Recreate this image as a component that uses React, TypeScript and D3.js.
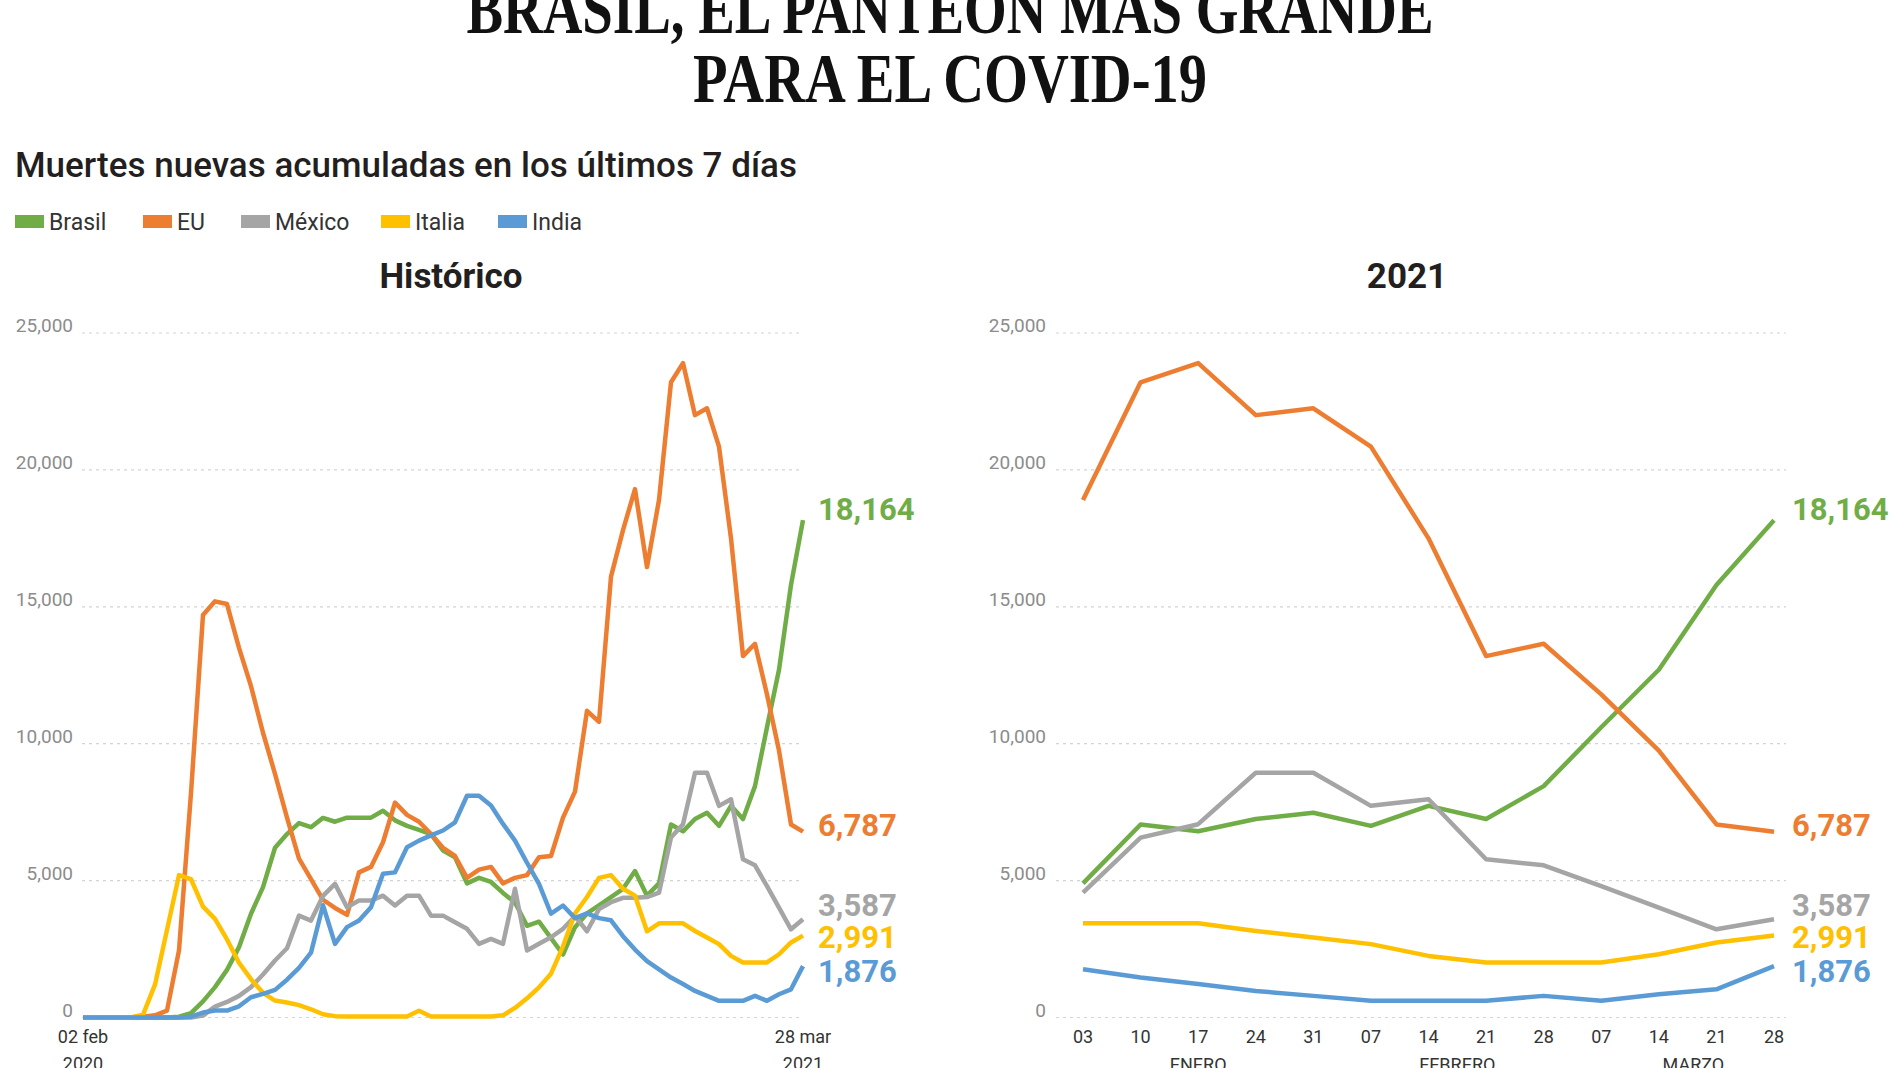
import React, { useEffect } from 'react';
import * as d3 from 'd3';

// ---------- DATA ----------
const seriesNames = ['Brasil', 'EU', 'México', 'Italia', 'India'];
const seriesColors = ['#70AD47', '#ED7D31', '#A5A5A5', '#FFC000', '#5B9BD5'];

// Weekly 7-day accumulated new deaths, 02 feb 2020 .. 28 mar 2021 (61 weeks)
const brasil = [
  0, 0, 0, 0, 0, 0, 0, 0, 30, 160, 590, 1110, 1740, 2570, 3790, 4760, 6200, 6700, 7100, 6950,
  7290, 7150, 7300, 7300, 7300, 7550, 7200, 7000, 6850, 6700, 6100, 5850, 4900, 5100, 4950, 4550,
  4200, 3350, 3500, 2900, 2300, 3300, 3800, 4100, 4400, 4700, 5350, 4450,
  4900, 7050, 6800, 7250, 7480, 7000, 7730, 7250, 8450, 10600, 12700, 15800, 18164,
];
const eu = [
  0, 0, 0, 0, 10, 30, 80, 250, 2450, 8200, 14700, 15200, 15100, 13500, 12100, 10400, 8900, 7300, 5800, 5050,
  4300, 4000, 3750, 5300, 5500, 6400, 7850, 7400, 7150, 6700, 6200, 5900, 5100, 5400, 5500, 4900,
  5100, 5200, 5850, 5900, 7300, 8250, 11200, 10800, 16100, 17800, 19300, 16450,
  18900, 23200, 23900, 22000, 22250, 20850, 17500, 13200, 13650, 11800, 9750, 7050, 6787,
];
const mexico = [
  0, 0, 0, 0, 0, 0, 0, 0, 0, 0, 70, 400, 570, 790, 1110, 1570, 2080, 2530, 3720, 3540,
  4440, 4880, 4030, 4270, 4270, 4450, 4090, 4450, 4450, 3720, 3720, 3480, 3240, 2690, 2870, 2690,
  4700, 2450, 2690, 2930, 3240, 3700, 3150, 3960, 4210, 4370, 4370, 4400,
  4560, 6570, 7060, 8940, 8940, 7730, 7970, 5780, 5560, 4800, 4010, 3220, 3587,
];
const italia = [
  0, 0, 0, 0, 0, 100, 1200, 3200, 5200, 5050, 4050, 3600, 2850, 2000, 1400, 900, 620, 550, 450, 300,
  120, 50, 40, 40, 40, 40, 40, 40, 250, 40, 40, 40, 40, 40, 40, 80,
  350, 700, 1100, 1600, 2600, 3800, 4400, 5100, 5200, 4700, 4450, 3150,
  3440, 3440, 3440, 3160, 2920, 2680, 2250, 2010, 2010, 2010, 2310, 2740, 2991,
];
const india = [
  0, 0, 0, 0, 0, 0, 0, 0, 0, 30, 180, 255, 255, 410, 740, 860, 1010, 1380, 1810, 2370,
  4100, 2690, 3300, 3540, 4030, 5250, 5300, 6220, 6460, 6650, 6830, 7130, 8100, 8100, 7740, 7070,
  6460, 5650, 4880, 3790, 4090, 3630, 3800, 3630, 3550, 2970, 2480, 2060,
  1760, 1460, 1220, 970, 790, 610, 610, 610, 790, 610, 850, 1030, 1876,
];
const seriesData = [brasil, eu, mexico, italia, india];
const endLabels = ['18,164', '6,787', '3,587', '2,991', '1,876'];

const yTicks = [0, 5000, 10000, 15000, 20000, 25000];
const histTicks = [
  { idx: 0, day: '02 feb', year: '2020' },
  { idx: 60, day: '28 mar', year: '2021' },
];
const weeks2021 = ['03', '10', '17', '24', '31', '07', '14', '21', '28', '07', '14', '21', '28'];
const months2021 = [
  { label: 'ENERO', pos: 2 },
  { label: 'FEBRERO', pos: 6.5 },
  { label: 'MARZO', pos: 10.6 },
];

// ---------- LAYOUT ----------
const labelDy = [0, 4, -3, 12, 16];
const legendX = [15, 143, 241, 381, 498];
const SANS = 'Roboto, "Noto Sans", sans-serif';

export default function App() {
  useEffect(() => {
    document.body.style.margin = '0';
  }, []);

  const y = d3.scaleLinear().domain([0, 25000]).range([1017.5, 333]);
  const xL = d3.scaleLinear().domain([0, 60]).range([83, 803]);
  const xR = d3.scaleLinear().domain([0, 12]).range([1083, 1774]);
  const fmt = d3.format(',');

  const lineL = d3
    .line<number>()
    .x((_, i) => xL(i))
    .y((d) => y(d));
  const lineR = d3
    .line<number>()
    .x((_, i) => xR(i))
    .y((d) => y(d));

  const panels = [
    { x: xL, line: lineL, gx0: 82, gx1: 803, labelX: 73, data: seriesData, endX: 818 },
    { x: xR, line: lineR, gx0: 1056, gx1: 1786, labelX: 1046, data: seriesData.map((s) => s.slice(-13)), endX: 1792 },
  ];

  return (
    <svg
      width={1900}
      height={1068}
      viewBox="0 0 1900 1068"
      style={{ position: 'absolute', left: 0, top: 0, background: '#fff', display: 'block' }}
    >
      <rect width={1900} height={1068} fill="#fff" />
      {/* Title */}
      <text
        x={950}
        y={33}
        textAnchor="middle"
        fontFamily='"Liberation Serif", serif'
        fontWeight="bold"
        fontSize={70}
        textLength={967}
        lengthAdjust="spacingAndGlyphs"
        fill="#111"
      >
        BRASIL, EL PANTEÓN MÁS GRANDE
      </text>
      <text
        x={950}
        y={102}
        textAnchor="middle"
        fontFamily='"Liberation Serif", serif'
        fontWeight="bold"
        fontSize={70}
        textLength={514}
        lengthAdjust="spacingAndGlyphs"
        fill="#111"
      >
        PARA EL COVID-19
      </text>
      {/* Subtitle */}
      <text
        x={15}
        y={177}
        fontFamily={SANS}
        fontWeight={500}
        fontSize={35}
        textLength={782}
        lengthAdjust="spacingAndGlyphs"
        fill="#231f20"
      >
        Muertes nuevas acumuladas en los últimos 7 días
      </text>
      {/* Legend */}
      {seriesNames.map((n, i) => (
        <g key={n}>
          <rect x={legendX[i]} y={215} width={29} height={13} fill={seriesColors[i]} />
          <text x={legendX[i] + 34} y={230} fontFamily={SANS} fontSize={23} fill="#333">
            {n}
          </text>
        </g>
      ))}
      {/* Panel titles */}
      <text x={451} y={288} textAnchor="middle" fontFamily={SANS} fontWeight={700} fontSize={35} fill="#231f20">
        Histórico
      </text>
      <text x={1407} y={288} textAnchor="middle" fontFamily={SANS} fontWeight={700} fontSize={35} fill="#231f20">
        2021
      </text>

      {panels.map((p, pi) => (
        <g key={pi}>
          {yTicks.map((t) => (
            <g key={t}>
              <line
                x1={p.gx0}
                x2={p.gx1}
                y1={y(t)}
                y2={y(t)}
                stroke="#d4d4d4"
                strokeWidth={1.2}
                strokeDasharray="3,4"
              />
              <text
                x={p.labelX}
                y={y(t) - 1}
                textAnchor="end"
                fontFamily={SANS}
                fontSize={19}
                fill="#8c8c8c"
              >
                {fmt(t)}
              </text>
            </g>
          ))}
          {p.data.map((s, si) => (
            <path
              key={si}
              d={p.line(s) || ''}
              fill="none"
              stroke={seriesColors[si]}
              strokeWidth={4.5}
              strokeLinejoin="round"
            />
          ))}
          {p.data.map((s, si) => (
            <text
              key={'l' + si}
              x={p.endX}
              y={y(s[s.length - 1]) + labelDy[si]}
              fontFamily={SANS}
              fontWeight={700}
              fontSize={31}
              fill={seriesColors[si]}
            >
              {endLabels[si]}
            </text>
          ))}
        </g>
      ))}

      {/* Historic x labels */}
      {histTicks.map((t) => (
        <g key={t.idx}>
          <text x={xL(t.idx)} y={1043} textAnchor="middle" fontFamily={SANS} fontSize={18} fill="#333">
            {t.day}
          </text>
          <text x={xL(t.idx)} y={1070} textAnchor="middle" fontFamily={SANS} fontSize={18} fill="#333">
            {t.year}
          </text>
        </g>
      ))}
      {/* 2021 x labels */}
      {weeks2021.map((w, i) => (
        <text key={i} x={xR(i)} y={1043} textAnchor="middle" fontFamily={SANS} fontSize={18} fill="#333">
          {w}
        </text>
      ))}
      {months2021.map((m) => (
        <text key={m.label} x={xR(m.pos)} y={1071} textAnchor="middle" fontFamily={SANS} fontSize={18} fill="#333">
          {m.label}
        </text>
      ))}
    </svg>
  );
}
